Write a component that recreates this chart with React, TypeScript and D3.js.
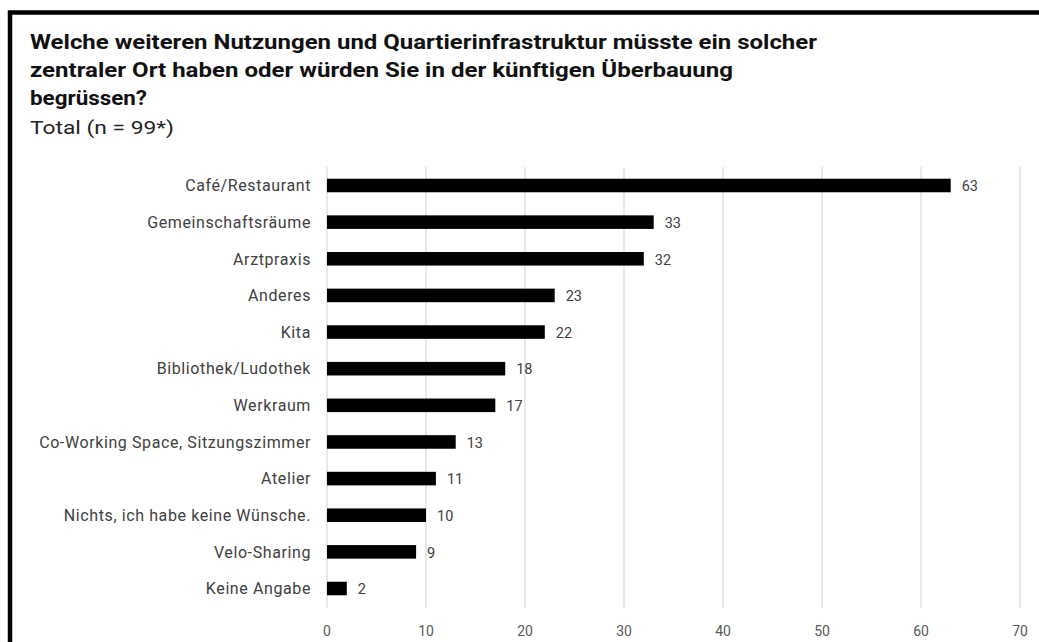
import React from "react";
import * as d3 from "d3";

const categories = [
  "Café/Restaurant",
  "Gemeinschaftsräume",
  "Arztpraxis",
  "Anderes",
  "Kita",
  "Bibliothek/Ludothek",
  "Werkraum",
  "Co-Working Space, Sitzungszimmer",
  "Atelier",
  "Nichts, ich habe keine Wünsche.",
  "Velo-Sharing",
  "Keine Angabe",
];
const values = [63, 33, 32, 23, 22, 18, 17, 13, 11, 10, 9, 2];
const ticks = [0, 10, 20, 30, 40, 50, 60, 70];
const titleLines = [
  "Welche weiteren Nutzungen und Quartierinfrastruktur müsste ein solcher",
  "zentraler Ort haben oder würden Sie in der künftigen Überbauung",
  "begrüssen?",
];
const subtitle = "Total (n = 99*)";

const W = 1039;
const H = 642;
const FONT = "Roboto, 'DejaVu Sans', sans-serif";
const titleWidths = [787, 703, 117];

export default function App() {
  const x = d3.scaleLinear().domain([0, 70]).range([327, 1020]);
  const y = d3.scaleBand<string>().domain(categories).range([167, 607]).paddingInner(0.63).paddingOuter(0.32);
  return (
    <svg width={W} height={H} style={{ position: "absolute", left: 0, top: 0, background: "#fff" }}>
      <rect x={0} y={0} width={W} height={H} fill="#fff" />
      <rect x={10} y={12.5} width={W + 20} height={H + 20} fill="none" stroke="#000" strokeWidth={4.5} />
      {titleLines.map((t, i) => (
        <text key={i} x={30} y={49 + i * 28} fontFamily={FONT} fontWeight="bold" fontSize={20.5} fill="#111"
          textLength={titleWidths[i]} lengthAdjust="spacingAndGlyphs">
          {t}
        </text>
      ))}
      <text x={30} y={134} fontFamily={FONT} fontSize={19} fill="#222" textLength={144} lengthAdjust="spacingAndGlyphs">{subtitle}</text>
      {ticks.map((t) => (
        <g key={t}>
          <line x1={x(t)} x2={x(t)} y1={167} y2={608} stroke="#d9d9d9" strokeWidth={1.2} />
          <text x={x(t)} y={636} textAnchor="middle" fontFamily={FONT} fontSize={14} fill="#595959">{t}</text>
        </g>
      ))}
      {categories.map((c, i) => {
        const yy = y(c)!;
        const bh = y.bandwidth();
        return (
          <g key={c}>
            <rect x={x(0)} y={yy} width={x(values[i]) - x(0)} height={bh} fill="#000" />
            <text x={311} y={yy + bh / 2} dy="0.36em" textAnchor="end" fontFamily={FONT} fontSize={16} letterSpacing={0.6} fill="#404040">{c}</text>
            <text x={x(values[i]) + 11} y={yy + bh / 2} dy="0.4em" fontFamily={FONT} fontSize={14.5} fill="#404040">{values[i]}</text>
          </g>
        );
      })}
    </svg>
  );
}
